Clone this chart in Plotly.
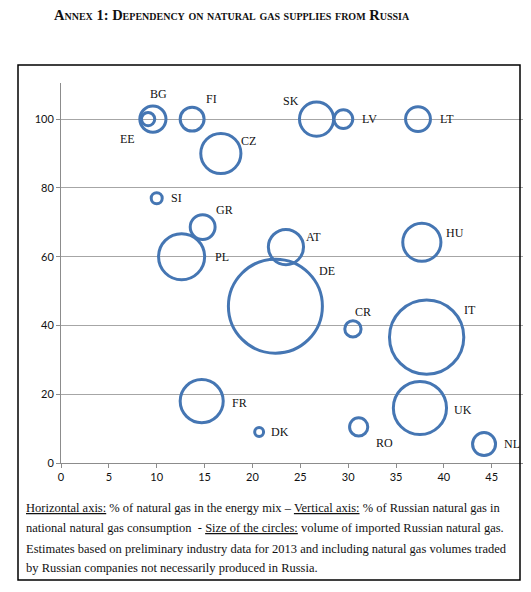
import numpy as np
import plotly.graph_objects as go

# Data
countries = ['EE', 'BG', 'FI', 'CZ', 'SI', 'GR', 'PL', 'SK', 'LV', 'LT',
             'AT', 'HU', 'DE', 'FR', 'DK', 'CR', 'IT', 'UK', 'RO', 'NL']
gasShare = [9.1, 9.6, 13.7, 16.7, 10.0, 14.8, 12.6, 26.7, 29.5, 37.3,
            23.5, 37.7, 22.4, 14.7, 20.7, 30.5, 38.2, 37.5, 31.1, 44.2]
russianShare = [100, 100, 100, 90, 77, 68.6, 60, 100, 100, 100,
                62.8, 64.2, 45.6, 18, 9, 39, 36.6, 16, 10.5, 5.5]
volume = [0.8, 3.1, 2.6, 7.3, 0.55, 2.8, 9.6, 5.3, 1.6, 2.8,
          5.6, 6.6, 40, 8.4, 0.36, 1.2, 25, 12.8, 1.5, 2.4]

xTicks = [0, 5, 10, 15, 20, 25, 30, 35, 40, 45]
yTicks = [0, 20, 40, 60, 80, 100]

# label offsets in px (dx right, dy down)
labelOffsets = {'EE': (-21, 20), 'BG': (6, -25), 'FI': (19, -20), 'CZ': (28, -13),
                'SI': (20, 0), 'GR': (22, -17), 'PL': (40, 0), 'SK': (-26, -18),
                'LV': (26, 0), 'LT': (29, 0), 'AT': (28, -10), 'HU': (33, -9),
                'DE': (52, -35), 'FR': (38, 2), 'DK': (21, 0), 'CR': (10, -17),
                'IT': (43, -27), 'UK': (43, 2), 'RO': (26, 16), 'NL': (28, 0)}

BLUE = '#4576B3'
OFF = 8  # page body margin
W, H = 531 - OFF, 592 - OFF
ML, MR, MT, MB = 61 - OFF, 1, 83 - OFF, 129
pw, ph = W - ML - MR, H - MT - MB


def px2paper(px, py):
    # reference picture pixels -> paper coords
    return (px - OFF - ML) / pw, (H - MB - (py - OFF)) / ph


# bubble area proportional to volume
diam = 94 / np.sqrt(max(volume)) * np.sqrt(np.array(volume))

fig = go.Figure()
fig.add_trace(go.Scatter(
    x=gasShare, y=russianShare, mode='markers',
    marker=dict(size=diam, sizemode='diameter', color='rgba(0,0,0,0)', opacity=1,
                line=dict(color=BLUE, width=3)),
    hoverinfo='text', text=countries, showlegend=False))

for c, xv, yv in zip(countries, gasShare, russianShare):
    dx, dy = labelOffsets[c]
    fig.add_annotation(x=xv, y=yv, text=c, showarrow=False,
                       xshift=dx, yshift=-dy,
                       font=dict(family='Liberation Serif', size=12, color='#111'))

# title
tx, ty = px2paper(52, 15)
fig.add_annotation(xref='paper', yref='paper', x=tx, y=ty, xanchor='left', yanchor='middle',
                   text='<b>Annex 1: Dependency on natural gas supplies from Russia</b>',
                   showarrow=False,
                   font=dict(family='Liberation Serif', size=14.5, color='#111',
                             variant='small-caps'))

# footnote lines
notes = ['<u>Horizontal axis:</u> % of natural gas in the energy mix \u2013 <u>Vertical axis:</u> % of Russian natural gas in',
         'national natural gas consumption  - <u>Size of the circles:</u> volume of imported Russian natural gas.',
         'Estimates based on preliminary industry data for 2013 and including natural gas volumes traded',
         'by Russian companies not necessarily produced in Russia.']
noteY = [508, 528, 549, 568]
for t, py in zip(notes, noteY):
    nx, ny = px2paper(24, py)
    fig.add_annotation(xref='paper', yref='paper', x=nx, y=ny,
                       xanchor='left', yanchor='middle',
                       text=t, showarrow=False,
                       font=dict(family='Liberation Serif', size=12.5, color='#111'))

# outer frame
fx0, fy0 = px2paper(18, 580)
fx1, fy1 = px2paper(520, 65)
fig.add_shape(type='rect', xref='paper', yref='paper',
              x0=fx0, x1=fx1, y0=fy0, y1=fy1,
              line=dict(color='black', width=1.5))

fig.update_xaxes(range=[0, 49], tickvals=xTicks, showgrid=False, zeroline=False,
                 showline=True, linecolor='#8c8c8c', linewidth=1,
                 ticks='outside', ticklen=4, tickcolor='#8c8c8c',
                 tickfont=dict(family='Lato', size=11, color='#111'))
fig.update_yaxes(range=[0, 110.5], tickvals=yTicks, showgrid=True, gridcolor='#a6a6a6',
                 zeroline=False, showline=True, linecolor='#8c8c8c', linewidth=1,
                 ticks='outside', ticklen=4, tickcolor='#8c8c8c',
                 tickfont=dict(family='Lato', size=11, color='#111'))

fig.update_layout(width=W, height=H, margin=dict(l=ML, r=MR, t=MT, b=MB),
                  plot_bgcolor='white', paper_bgcolor='white')

fig.write_html("out.html")
